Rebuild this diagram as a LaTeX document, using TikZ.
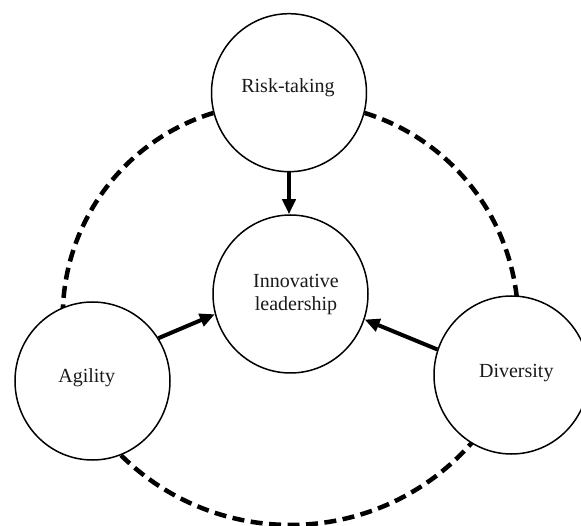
\documentclass[tikz,border=0pt]{standalone}
\usepackage{fontspec}
\setmainfont{Liberation Serif}
\usetikzlibrary{shapes.geometric,arrows.meta}
\pgfdeclarelayer{background}
\pgfsetlayers{background,main}
\begin{document}
\begin{tikzpicture}[x=1pt,y=1pt,
  bubble/.style={ellipse,draw=black,line width=1.5pt,fill=white,minimum width=155pt,minimum height=158pt,inner sep=0pt},
  txt/.style={font=\fontsize{20}{23.4}\selectfont,inner sep=0pt,align=center,text=black!90},
  arr/.style={line width=4pt,-{Triangle[length=15pt,width=13pt]}},
  dashline/.style={line width=4.5pt,dash pattern=on 12pt off 6.5pt}]
\useasboundingbox (0,0) rectangle (581,-526);
\clip (0,0) rectangle (581,-526);
% circles
\node[bubble] (risk) at (289,-92.7) {};
\node[bubble] (innov) at (290.5,-294) {};
\node[bubble] (agility) at (92.5,-381) {};
\node[bubble] (diversity) at (511.5,-375) {};
% texts
\node[txt,anchor=base] (risktext) at (288,-92.7) {Risk-taking};
\node[txt,anchor=center] (innovtext) at (296,-294.3) {Innovative\\leadership};
\node[txt,anchor=base] (agilitytext) at (86.7,-382.7) {Agility};
\node[txt,anchor=base] (diversitytext) at (516.3,-377.7) {Diversity};
% arrows
\draw[arr] (risk.south) -- (risk.south |- innov.north);
\draw[arr] (agility.33.5) -- (innov.195.5);
\draw[arr] (diversity.161) -- (innov.-19.6);
% dashed arcs
\begin{pgfonlayer}{background}
\draw[dashline] (risk.195) arc[start angle=107,end angle=180,radius=212.8];
\draw[dashline] (risk.-15) arc[start angle=72.7,end angle=5,radius=218.4];
\draw[dashline] (agility.-69) arc[start angle=-134.7,end angle=-38,radius=241];
\end{pgfonlayer}
\end{tikzpicture}
\end{document}
